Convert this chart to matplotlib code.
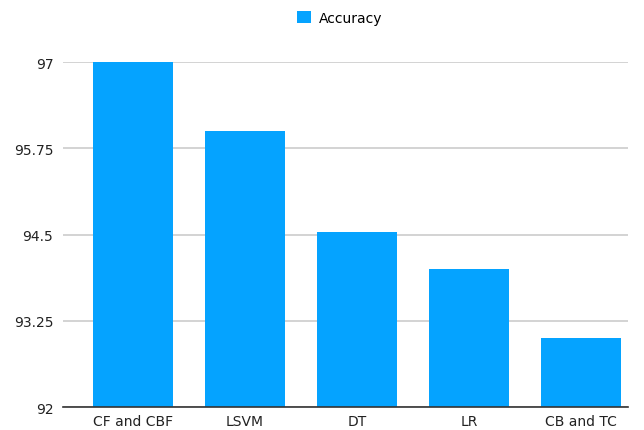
import matplotlib
matplotlib.use("Agg")
import matplotlib.pyplot as plt
from matplotlib.patches import Patch

categories = ["CF and CBF", "LSVM", "DT", "LR", "CB and TC"]
accuracy = [97.0, 96.0, 94.53, 94.0, 93.0]
yticks = [92, 93.25, 94.5, 95.75, 97]
ytick_labels = ["92", "93.25", "94.5", "95.75", "97"]

color = "#05A3FF"
plt.rcParams["font.family"] = ["DejaVu Sans"]

fig = plt.figure(figsize=(6.44, 4.31), dpi=100)
ax = fig.add_axes([63/644, (431-408)/431, (628-63)/644, (408-63)/431])

x = list(range(len(categories)))
ax.bar(x, accuracy, width=0.714, color=color, zorder=3)
ax.set_ylim(92, 97)
ax.set_xlim(-0.625, 4.42)
ax.set_yticks(yticks)
ax.set_yticklabels(ytick_labels)
ax.set_xticks(x)
ax.set_xticklabels(categories)
ax.tick_params(axis="both", length=0, labelsize=10, colors="#222222")
ax.tick_params(axis="y", pad=7)
ax.tick_params(axis="x", pad=5)
ax.grid(axis="y", color="#cccccc", linewidth=1.2, zorder=0)
for s in ["top", "right", "left"]:
    ax.spines[s].set_visible(False)
ax.spines["bottom"].set_color("#333333")
ax.spines["bottom"].set_linewidth(1.2)
ax.spines["bottom"].set_zorder(4)

handle = Patch(facecolor=color, label="Accuracy")
fig.legend(handles=[handle], loc="center", bbox_to_anchor=(340/644, 1 - 19/431),
           frameon=False, fontsize=10, handlelength=1.0, handleheight=1.0,
           handletextpad=0.6)

fig.savefig("out.png", dpi=100)
